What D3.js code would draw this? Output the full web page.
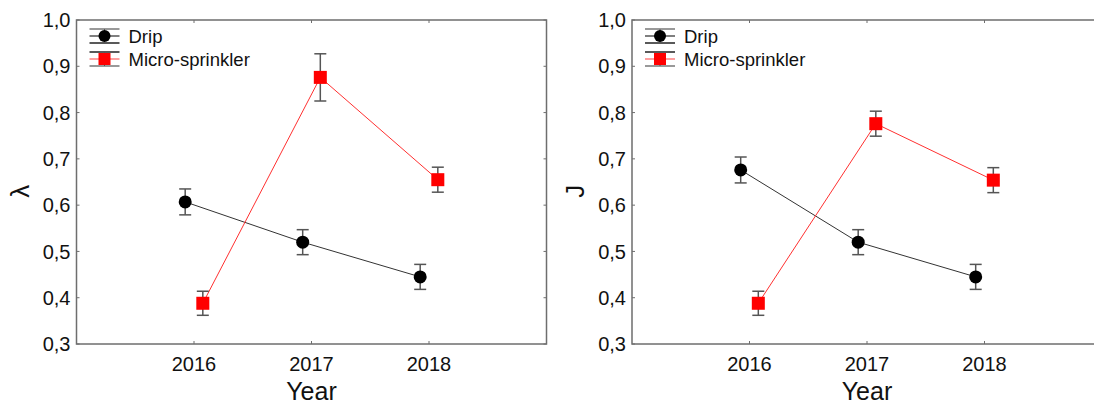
<!DOCTYPE html>
<html>
<head>
<meta charset="utf-8">
<script src="https://cdn.jsdelivr.net/npm/d3@7"></script>
<style>
  body { margin: 0; background: #fff; }
  svg { display: block; font-family: "Liberation Sans", Arial, sans-serif; }
</style>
</head>
<body>
<svg id="chart" width="1094" height="407"></svg>
<script>
// data
const years = [2016, 2017, 2018];
const yTicks = [0.3, 0.4, 0.5, 0.6, 0.7, 0.8, 0.9, 1.0];

const lambdaDrip = [0.607, 0.520, 0.445];
const lambdaDripErr = [0.028, 0.027, 0.027];
const lambdaMicro = [0.388, 0.876, 0.655];
const lambdaMicroErr = [0.026, 0.051, 0.027];

const jDrip = [0.676, 0.520, 0.445];
const jDripErr = [0.028, 0.027, 0.027];
const jMicro = [0.388, 0.776, 0.654];
const jMicroErr = [0.026, 0.027, 0.027];

const seriesNames = ['Drip', 'Micro-sprinkler'];

const svg = d3.select('#chart');
const fmt = v => d3.format('.1f')(v).replace('.', ',');

function drawPanel(left, yTitle, drip, dripErr, micro, microErr) {
  const top = 20, bottom = 344, width = 470;
  const x = d3.scaleLinear().domain([2015, 2019]).range([left, left + width]);
  const y = d3.scaleLinear().domain([0.3, 1.0]).range([bottom, top]);
  const g = svg.append('g');
  const frame = '#6e6e6e';

  // frame
  g.append('rect')
    .attr('x', left).attr('y', top)
    .attr('width', width).attr('height', bottom - top)
    .attr('fill', 'none').attr('stroke', frame).attr('stroke-width', 1.5);

  // inward ticks on all four sides
  years.forEach(yr => {
    g.append('line').attr('x1', x(yr)).attr('x2', x(yr)).attr('y1', bottom).attr('y2', bottom - 3).attr('stroke', frame);
    g.append('line').attr('x1', x(yr)).attr('x2', x(yr)).attr('y1', top).attr('y2', top + 3).attr('stroke', frame);
  });
  yTicks.forEach(t => {
    g.append('line').attr('x1', left).attr('x2', left + 3).attr('y1', y(t)).attr('y2', y(t)).attr('stroke', frame);
    g.append('line').attr('x1', left + width).attr('x2', left + width - 3).attr('y1', y(t)).attr('y2', y(t)).attr('stroke', frame);
  });

  // tick labels
  g.selectAll('.ytl').data(yTicks).join('text')
    .attr('x', left - 6).attr('y', d => y(d)).attr('dy', '0.36em')
    .attr('text-anchor', 'end').attr('font-size', 20).attr('fill', '#111')
    .text(fmt);
  g.selectAll('.xtl').data(years).join('text')
    .attr('x', d => x(d)).attr('y', 371)
    .attr('text-anchor', 'middle').attr('font-size', 20).attr('fill', '#111')
    .text(d => d);

  // axis titles
  g.append('text')
    .attr('x', x(2017)).attr('y', 400)
    .attr('text-anchor', 'middle').attr('font-size', 25).attr('fill', '#111')
    .text('Year');
  g.append('text')
    .attr('transform', `translate(${left - 48},${y(0.63)}) rotate(-90)`)
    .attr('text-anchor', 'middle').attr('font-size', 26).attr('fill', '#111')
    .text(yTitle);

  const off = 0.075;
  const series = [
    { vals: drip, err: dripErr, dx: -off, color: '#333', fill: '#000', shape: 'circle' },
    { vals: micro, err: microErr, dx: off, color: '#ff3030', fill: '#ff0000', shape: 'square' }
  ];

  series.forEach(s => {
    const pts = years.map((yr, i) => ({ x: yr + s.dx, v: s.vals[i], e: s.err[i] }));
    g.append('path')
      .datum(pts)
      .attr('d', d3.line().x(d => x(d.x)).y(d => y(d.v)))
      .attr('fill', 'none').attr('stroke', s.color).attr('stroke-width', 1);

    pts.forEach(p => {
      const cx = x(p.x);
      g.append('line').attr('x1', cx).attr('x2', cx)
        .attr('y1', y(p.v - p.e)).attr('y2', y(p.v + p.e))
        .attr('stroke', '#555').attr('stroke-width', 1.5);
      [p.v - p.e, p.v + p.e].forEach(v => {
        g.append('line').attr('x1', cx - 6).attr('x2', cx + 6)
          .attr('y1', y(v)).attr('y2', y(v))
          .attr('stroke', '#555').attr('stroke-width', 1.5);
      });
      if (s.shape === 'circle') {
        g.append('circle').attr('cx', cx).attr('cy', y(p.v)).attr('r', 6.5).attr('fill', s.fill);
      } else {
        g.append('rect').attr('x', cx - 6.5).attr('y', y(p.v) - 6.5)
          .attr('width', 13).attr('height', 13).attr('fill', s.fill);
      }
    });
  });

  // legend
  const lx = left + 28;
  series.forEach((s, i) => {
    const cy = 36 + i * 23;
    const lg = g.append('g');
    lg.append('line').attr('x1', lx - 15).attr('x2', lx + 15).attr('y1', cy - 7).attr('y2', cy - 7)
      .attr('stroke', i === 0 ? '#777' : '#222').attr('stroke-width', 1.5);
    lg.append('line').attr('x1', lx - 15).attr('x2', lx + 15).attr('y1', cy + 7).attr('y2', cy + 7)
      .attr('stroke', i === 0 ? '#222' : '#777').attr('stroke-width', 1.5);
    lg.append('line').attr('x1', lx).attr('x2', lx).attr('y1', cy - 7).attr('y2', cy + 7)
      .attr('stroke', '#555').attr('stroke-width', 1);
    lg.append('line').attr('x1', lx - 15).attr('x2', lx + 15).attr('y1', cy).attr('y2', cy)
      .attr('stroke', i === 0 ? '#555' : '#ff8080').attr('stroke-width', 1.5);
    if (s.shape === 'circle') {
      lg.append('circle').attr('cx', lx).attr('cy', cy).attr('r', 6).attr('fill', s.fill);
    } else {
      lg.append('rect').attr('x', lx - 6).attr('y', cy - 6).attr('width', 12).attr('height', 12).attr('fill', s.fill);
    }
    lg.append('text').attr('x', lx + 24).attr('y', cy).attr('dy', '0.36em')
      .attr('font-size', 18.5).attr('fill', '#111').text(seriesNames[i]);
  });
}

drawPanel(76.5, 'λ', lambdaDrip, lambdaDripErr, lambdaMicro, lambdaMicroErr);
drawPanel(632, 'J', jDrip, jDripErr, jMicro, jMicroErr);
</script>
</body>
</html>
